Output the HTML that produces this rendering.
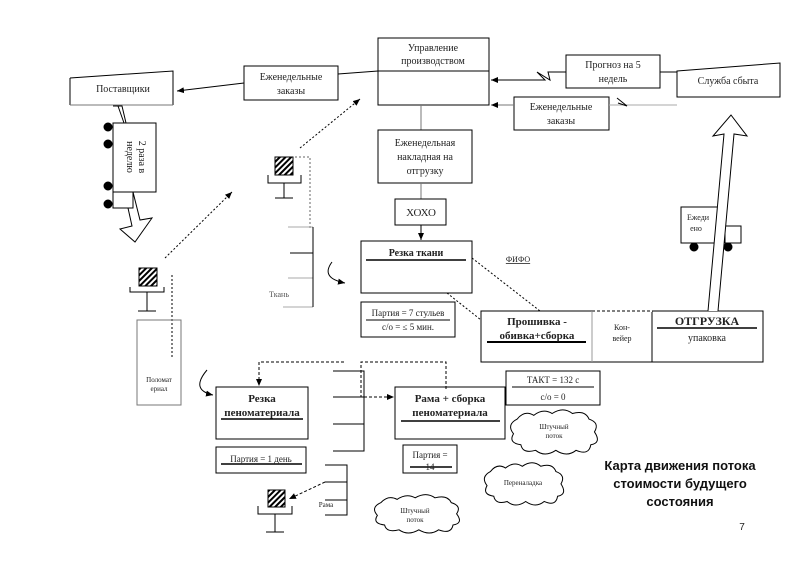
<!DOCTYPE html>
<html><head><meta charset="utf-8"><style>
html,body{margin:0;padding:0;background:#fff;}
svg{display:block;font-family:"Liberation Serif",serif;}
</style></head><body>
<svg width="800" height="565" viewBox="0 0 800 565" xmlns="http://www.w3.org/2000/svg">
<defs>
<marker id="a" markerWidth="8" markerHeight="8" refX="7" refY="4" orient="auto"><path d="M0,1 L7,4 L0,7 Z" fill="#000"/></marker>
<pattern id="h" width="4" height="4" patternUnits="userSpaceOnUse" patternTransform="rotate(45)"><rect width="4" height="4" fill="#fff"/><rect width="2" height="4" fill="#000"/></pattern>
<path id="cl" d="M10,12 Q18,2 28,8 Q38,0 48,6 Q60,-2 70,6 Q84,2 88,12 Q100,16 94,26 Q102,38 90,40 Q88,52 74,46 Q64,54 52,46 Q40,54 30,46 Q16,50 14,40 Q0,38 6,28 Q-2,18 10,12 Z" vector-effect="non-scaling-stroke"/>
</defs>
<g fill="none" stroke="#000" stroke-width="1">
<path d="M70,78 L173,71 L173,105 M70,78 L70,105" />
<line x1="70" y1="105" x2="173" y2="105" stroke="#777"/>
<rect x="244" y="66" width="94" height="34"/>
<line x1="378" y1="71" x2="338" y2="74"/>
<line x1="244" y1="83" x2="177" y2="91" marker-end="url(#a)"/>
<rect x="378" y="38" width="111" height="67"/>
<line x1="378" y1="71" x2="489" y2="71"/>
<rect x="566" y="55" width="94" height="33"/>
<path d="M677,71 L780,63 L780,97 L677,97 Z"/>
<line x1="660" y1="72" x2="677" y2="72"/>
<polyline points="566,72 548,72 550,80 537,72 545,80 491,80" marker-end="url(#a)"/>
<rect x="514" y="97" width="95" height="33"/>
<line x1="514" y1="105" x2="491" y2="105" stroke="#777" marker-end="url(#a)"/>
<line x1="609" y1="105" x2="677" y2="105" stroke="#aaa"/>
<polyline points="617,98 627,106 618,103"/>
<line x1="421" y1="105" x2="421" y2="130" stroke="#777"/>
<rect x="378" y="130" width="94" height="53"/>
<line x1="421" y1="183" x2="421" y2="199" stroke="#777"/>
<rect x="395" y="199" width="51" height="26"/>
<line x1="421" y1="225" x2="421" y2="240" marker-end="url(#a)"/>
<rect x="361" y="241" width="111" height="52"/>
<line x1="366" y1="260" x2="466" y2="260" stroke-width="1.5"/>
<rect x="361" y="302" width="94" height="35"/>
<line x1="366" y1="320" x2="450" y2="320"/>
<rect x="481" y="311" width="282" height="51"/>
<line x1="592" y1="311" x2="592" y2="362" stroke="#999"/>
<line x1="652" y1="311" x2="652" y2="362"/>
<line x1="487" y1="342" x2="586" y2="342" stroke-width="2"/>
<line x1="657" y1="328" x2="757" y2="328" stroke-width="1.5"/>
<line x1="592" y1="311" x2="652" y2="311" stroke="#fff" stroke-width="2"/>
<line x1="592" y1="311" x2="652" y2="311" stroke-dasharray="3,2"/>
<line x1="472" y1="258" x2="540" y2="311" stroke-dasharray="2,2"/>
<line x1="447" y1="293" x2="481" y2="320" stroke-dasharray="2,2"/>
<rect x="681" y="207" width="44" height="36" fill="#fff"/>
<rect x="725" y="226" width="16" height="17" fill="#fff"/>
<path d="M708,311 L724,134 L713,136 L731,115 L747,136 L734,134 L718,311" fill="#fff"/>
<circle cx="694" cy="247" r="4" fill="#000"/><circle cx="728" cy="247" r="4" fill="#000"/>
<path d="M113,106 L122,106 L126,123 M133,192 L140,220 L152,218 L135,242 L120,229 L132,226 L128,208 M118,106 L124,123" />
<rect x="113" y="123" width="43" height="69" fill="#fff"/>
<rect x="113" y="192" width="20" height="16" fill="#fff"/>
<circle cx="108" cy="127" r="4" fill="#000"/><circle cx="108" cy="144" r="4" fill="#000"/>
<circle cx="108" cy="186" r="4" fill="#000"/><circle cx="108" cy="204" r="4" fill="#000"/>
<rect x="275" y="157" width="18" height="18" fill="url(#h)"/>
<path d="M268,175 L268,183 L301,183 L301,175 M284,183 L284,198 M275,198 L293,198"/>
<polyline points="295,157 310,157 310,228" stroke-dasharray="2,2" stroke="#666"/>
<line x1="300" y1="148" x2="360" y2="99" stroke-dasharray="2,2" marker-end="url(#a)"/>
<line x1="165" y1="258" x2="232" y2="192" stroke-dasharray="2,2" marker-end="url(#a)"/>
<rect x="139" y="268" width="18" height="18" fill="url(#h)"/>
<path d="M130,287 L130,292 L164,292 L164,287 M147,292 L147,311 M138,311 L156,311"/>
<line x1="172" y1="275" x2="172" y2="357" stroke-dasharray="2,2"/>
<rect x="137" y="320" width="44" height="85" stroke="#777"/>
<path d="M288,227 L313,227 M290,253 L313,253 M288,278 L313,278 M283,307 L313,307" stroke="#aaa"/>
<path d="M313,227 L313,307 M290,253 L313,253"/>
<path d="M332,262 Q320,278 345,283" marker-end="url(#a)"/>
<path d="M207,370 Q190,390 213,395" marker-end="url(#a)"/>
<rect x="216" y="387" width="92" height="52"/>
<line x1="221" y1="419" x2="303" y2="419" stroke-width="1.5"/>
<rect x="216" y="447" width="90" height="26"/>
<line x1="221" y1="464" x2="302" y2="464" stroke-width="1.5"/>
<path d="M333,371 L364,371 L364,451 L333,451 M333,397 L364,397 M333,424 L364,424"/>
<polyline points="344,362 259,362 259,386" stroke-dasharray="3,2" marker-end="url(#a)"/>
<polyline points="446,389 446,362 361,362 361,397 394,397" stroke-dasharray="3,2" marker-end="url(#a)"/>
<rect x="395" y="387" width="110" height="52"/>
<line x1="401" y1="421" x2="500" y2="421" stroke-width="1.5"/>
<rect x="403" y="445" width="54" height="28"/>
<line x1="410" y1="467" x2="452" y2="467" stroke-width="1.5"/>
<rect x="506" y="371" width="94" height="34"/>
<line x1="512" y1="387" x2="594" y2="387"/>
<path d="M325,465 L347,465 L347,515 L325,515 M325,482 L347,482 M325,500 L347,500"/>
<line x1="325" y1="482" x2="289" y2="499" stroke-dasharray="3,2" marker-end="url(#a)"/>
<rect x="268" y="490" width="17" height="17" fill="url(#h)"/>
<path d="M258,506 L258,514 L292,514 L292,506 M275,514 L275,532 M266,532 L284,532"/>
<use href="#cl" transform="translate(508,408) scale(0.92,0.92)" fill="#fff"/>
<use href="#cl" transform="translate(482,461) scale(0.84,0.88)" fill="#fff"/>
<use href="#cl" transform="translate(372,493) scale(0.9,0.8)" fill="#fff"/>
</g>
<g font-size="10" text-anchor="middle" fill="#222">
<text x="123" y="92">Поставщики</text>
<text x="291" y="80">Еженедельные</text><text x="291" y="94">заказы</text>
<text x="433" y="51">Управление</text><text x="433" y="64">производством</text>
<text x="613" y="68">Прогноз на 5</text><text x="613" y="82">недель</text>
<text x="728" y="84">Служба сбыта</text>
<text x="561" y="110">Еженедельные</text><text x="561" y="124">заказы</text>
<text x="425" y="146">Еженедельная</text><text x="425" y="160">накладная на</text><text x="425" y="174">отгрузку</text>
<text x="421" y="216" font-size="11">ХОХО</text>
<text x="416" y="256" font-weight="bold">Резка ткани</text>
<text x="408" y="316" font-size="9">Партия = 7 стульев</text>
<text x="408" y="330" font-size="9">с/о = ≤ 5 мин.</text>
<text x="518" y="262" font-size="8" text-decoration="underline">ФИФО</text>
<text x="537" y="325" font-weight="bold" font-size="11">Прошивка -</text>
<text x="537" y="339" font-weight="bold" font-size="11">обивка+сборка</text>
<text x="622" y="330" font-size="8">Кон-</text><text x="622" y="341" font-size="8">вейер</text>
<text x="707" y="325" font-weight="bold" font-size="12">ОТГРУЗКА</text>
<text x="707" y="341">упаковка</text>
<text x="698" y="220" font-size="8">Ежеди</text><text x="696" y="231" font-size="8">ено</text>
<text transform="translate(139,157) rotate(90)" font-size="10">2 раза в</text>
<text transform="translate(127,157) rotate(90)" font-size="10">неделю</text>
<text x="279" y="297" font-size="8" fill="#555">Ткань</text>
<text x="159" y="382" font-size="7">Поломат</text><text x="159" y="391" font-size="7">ериал</text>
<text x="262" y="402" font-weight="bold" font-size="11">Резка</text>
<text x="262" y="416" font-weight="bold" font-size="11">пеноматериала</text>
<text x="261" y="462" font-size="9">Партия = 1 день</text>
<text x="450" y="402" font-weight="bold" font-size="11">Рама + сборка</text>
<text x="450" y="416" font-weight="bold" font-size="11">пеноматериала</text>
<text x="430" y="458" font-size="9">Партия =</text><text x="430" y="470" font-size="9">14</text>
<text x="553" y="383" font-size="9">ТАКТ = 132 с</text>
<text x="553" y="400" font-size="9">с/о = 0</text>
<text x="326" y="507" font-size="7">Рама</text>
<text x="554" y="429" font-size="7">Штучный</text><text x="554" y="438" font-size="7">поток</text>
<text x="523" y="485" font-size="7">Переналадка</text>
<text x="415" y="513" font-size="7">Штучный</text><text x="415" y="522" font-size="7">поток</text>
<g font-family="Liberation Sans, sans-serif" font-weight="bold" font-size="13" fill="#111">
<text x="680" y="470">Карта движения потока</text>
<text x="680" y="488">стоимости будущего</text>
<text x="680" y="506">состояния</text>
</g>
<text x="742" y="530" font-family="Liberation Sans, sans-serif" font-size="10">7</text>
</g>
</svg>
</body></html>
